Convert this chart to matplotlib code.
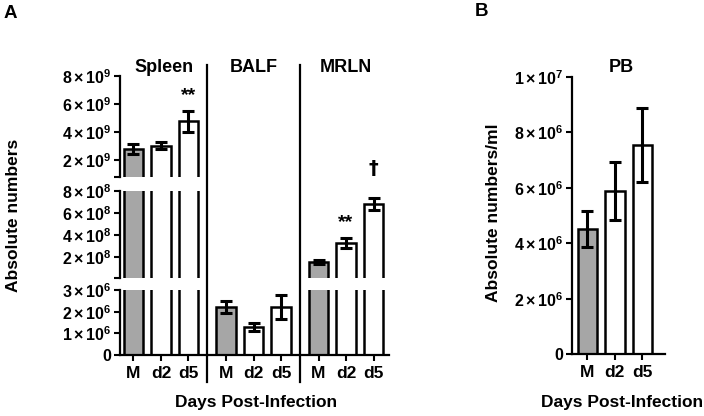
import matplotlib
matplotlib.use('Agg')
import matplotlib.pyplot as plt
from matplotlib.lines import Line2D
from matplotlib.transforms import blended_transform_factory
import numpy as np

plt.rcParams['font.family'] = ['Liberation Sans', 'DejaVu Sans']
plt.rcParams['font.weight'] = 'bold'
plt.rcParams['mathtext.fontset'] = 'custom'
plt.rcParams['mathtext.rm'] = 'Liberation Sans:bold'
plt.rcParams['mathtext.bf'] = 'Liberation Sans:bold'
plt.rcParams['mathtext.it'] = 'Liberation Sans:bold'

# ---------------- data ----------------
groups = ['Spleen', 'BALF', 'MRLN']
days = ['M', 'd2', 'd5']
spleen_mean = [2.8e9, 3.0e9, 4.75e9]
spleen_err = [0.35e9, 0.25e9, 0.75e9]
balf_mean = [2.2e6, 1.3e6, 2.2e6]
balf_err = [0.27e6, 0.18e6, 0.55e6]
mrln_mean = [1.55e8, 3.3e8, 6.8e8]
mrln_err = [0.2e8, 0.45e8, 0.55e8]
pb_mean = [4.5e6, 5.88e6, 7.54e6]
pb_err = [0.65e6, 1.03e6, 1.35e6]

upper_ticks = [2e9, 4e9, 6e9, 8e9]
upper_labels = [r'$2\times10^{9}$', r'$4\times10^{9}$', r'$6\times10^{9}$', r'$8\times10^{9}$']
middle_ticks = [2e8, 4e8, 6e8, 8e8]
middle_labels = [r'$2\times10^{8}$', r'$4\times10^{8}$', r'$6\times10^{8}$', r'$8\times10^{8}$']
lower_ticks = [0, 1e6, 2e6, 3e6]
lower_labels = ['0', r'$1\times10^{6}$', r'$2\times10^{6}$', r'$3\times10^{6}$']
pb_ticks = [0, 2e6, 4e6, 6e6, 8e6, 1e7]
pb_labels = ['0', r'$2\times10^{6}$', r'$4\times10^{6}$', r'$6\times10^{6}$',
             r'$8\times10^{6}$', r'$1\times10^{7}$']

W, H = 704, 416
fig = plt.figure(figsize=(W / 100, H / 100), dpi=100)


def frac(x0, y0, x1, y1):
    return [x0 / W, 1 - y1 / H, (x1 - x0) / W, (y1 - y0) / H]


GRAY = '#a6a6a6'
colors = [GRAY, 'white', 'white']
BW = 0.71
gap = 0.364
pos = np.concatenate([g * (3 + gap) + np.arange(3) for g in range(3)])
means_a = np.array(spleen_mean + balf_mean + mrln_mean)
errs_a = np.array(spleen_err + balf_err + mrln_err)
cols_a = np.array(colors * 3)

ax_up = fig.add_axes(frac(120, 75.7, 389, 176.7))
ax_mid = fig.add_axes(frac(120, 191, 389, 277.7))
ax_low = fig.add_axes(frac(120, 290, 389, 355))

lims = [(0.8e9, 8e9), (1e7, 8e8), (0, 3e6)]
ticks = [upper_ticks, middle_ticks, lower_ticks]
labels = [upper_labels, middle_labels, lower_labels]


def style(ax, bottom_axis):
    for s in ['top', 'right']:
        ax.spines[s].set_visible(False)
    ax.spines['left'].set_linewidth(1.6)
    ax.spines['bottom'].set_linewidth(1.6)
    if not bottom_axis:
        ax.spines['bottom'].set_visible(False)
        ax.tick_params(axis='x', bottom=False, labelbottom=False)
    ax.tick_params(axis='y', direction='out', length=4, width=1.5, labelsize=11.5, pad=2)
    ax.tick_params(axis='x', direction='out', length=4, width=1.5, labelsize=12.5, pad=4)
    ax.set_facecolor('none')


for i, ax in enumerate([ax_up, ax_mid, ax_low]):
    lo, hi = lims[i]
    show = means_a > lo
    ax.bar(pos[show], means_a[show], width=BW, color=cols_a[show], edgecolor='black',
           linewidth=1.8, zorder=2)
    show_e = (means_a + errs_a) > lo
    ax.errorbar(pos[show_e], means_a[show_e], yerr=errs_a[show_e], fmt='none', ecolor='black',
                elinewidth=2.2, capsize=4.2, capthick=2.2, zorder=3)
    ax.set_xlim(-0.49, 9.29)
    ax.set_ylim(lo, hi)
    if i < 2:
        ax.set_yticks([lo] + ticks[i])
        ax.set_yticklabels([''] + labels[i])
    else:
        ax.set_yticks(ticks[i])
        ax.set_yticklabels(labels[i])
    style(ax, i == 2)

ax_low.set_xticks(pos)
ax_low.set_xticklabels(days * 3)

# significance marks
ax_up.annotate('**', xy=(pos[2], means_a[2] + errs_a[2]), xytext=(0, 11),
               textcoords='offset points', ha='center', va='center', fontsize=14,
               annotation_clip=False)
ax_mid.annotate('**', xy=(pos[7], means_a[7] + errs_a[7]), xytext=(0, 11),
                textcoords='offset points', ha='center', va='center', fontsize=14,
                annotation_clip=False)
ax_mid.annotate('†', xy=(pos[8], means_a[8] + errs_a[8]), xytext=(0, 21),
                textcoords='offset points', ha='center', va='center', fontsize=14,
                family='DejaVu Sans', fontweight='bold', annotation_clip=False)

# separators and group titles
trans = blended_transform_factory(ax_low.transData, fig.transFigure)
for g in range(2):
    xs = (pos[3 * g + 2] + pos[3 * g + 3]) / 2
    fig.add_artist(Line2D([xs, xs], [1 - 65 / H, 1 - 382 / H], transform=trans,
                          color='black', lw=1.6))
for g, name in enumerate(groups):
    xc = pos[3 * g + 1] + (0.1 if g == 0 else 0)
    fig.text(xc, 1 - 68 / H, name, transform=trans, ha='center', va='center', fontsize=13)

fig.text(14 / W, 1 - 215 / H, 'Absolute numbers', rotation=90, ha='center', va='center',
         fontsize=12.5)
fig.text(256 / W, 1 - 402 / H, 'Days Post-Infection', ha='center', va='center', fontsize=12.5)
fig.text(10 / W, 1 - 14 / H, 'A', ha='center', va='center', fontsize=13.5)

# ---------------- panel B ----------------
ax_b = fig.add_axes(frac(572, 76.7, 665, 354.3))
pos_b = np.arange(3)
ax_b.bar(pos_b, pb_mean, width=BW, color=colors, edgecolor='black', linewidth=1.8, zorder=2)
ax_b.errorbar(pos_b, pb_mean, yerr=pb_err, fmt='none', ecolor='black', elinewidth=2.2,
              capsize=4.2, capthick=2.2, zorder=3)
ax_b.set_xlim(-0.56, 2.82)
ax_b.set_ylim(0, 1e7)
ax_b.set_yticks(pb_ticks)
ax_b.set_yticklabels(pb_labels)
ax_b.set_xticks(pos_b)
ax_b.set_xticklabels(days)
style(ax_b, True)
ax_b.text(0.53, 1 - 68 / H, 'PB', transform=blended_transform_factory(ax_b.transAxes, fig.transFigure),
          ha='center', va='center', fontsize=13)
fig.text(493 / W, 1 - 213 / H, 'Absolute numbers/ml', rotation=90, ha='center', va='center',
         fontsize=12.5)
fig.text(622 / W, 1 - 403 / H, 'Days Post-Infection', ha='center', va='center', fontsize=12.5)
fig.text(481 / W, 1 - 12 / H, 'B', ha='center', va='center', fontsize=13.5)

fig.savefig('out.png', dpi=100)
